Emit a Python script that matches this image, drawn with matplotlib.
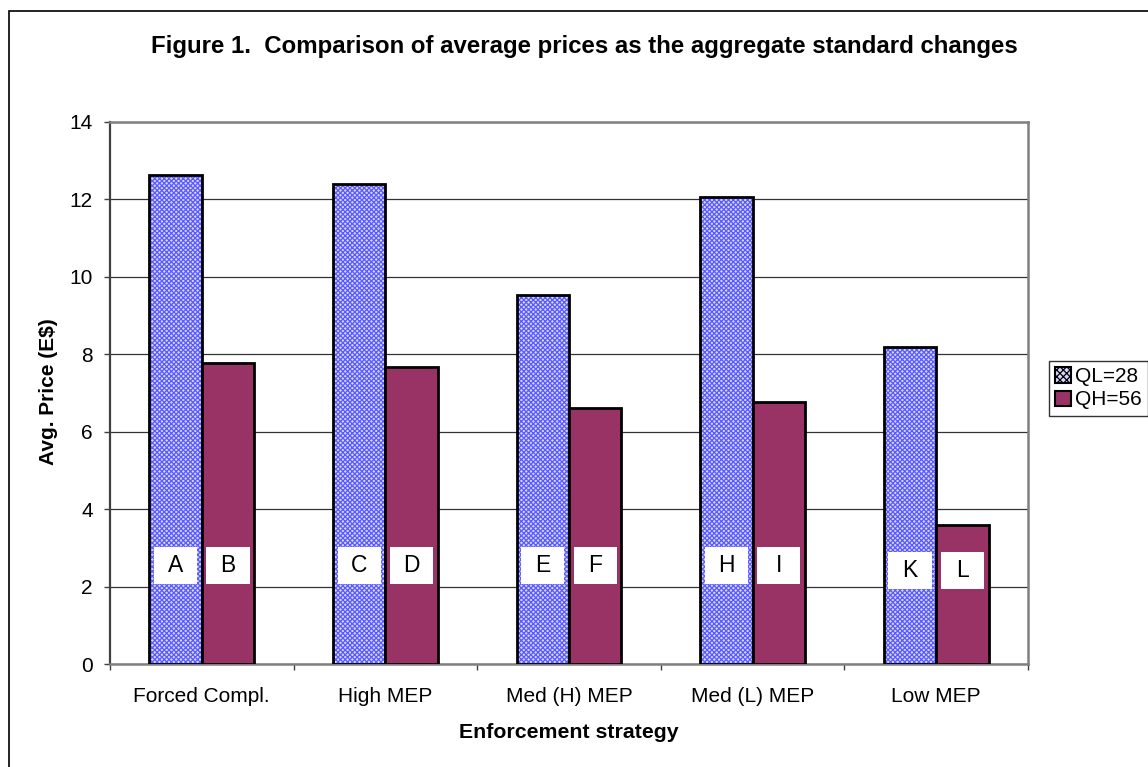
import numpy as np
import matplotlib
matplotlib.use("Agg")
import matplotlib.pyplot as plt
from matplotlib.patches import Rectangle, Patch

plt.rcParams["font.family"] = ["Liberation Sans", "DejaVu Sans"]
plt.rcParams["hatch.linewidth"] = 0.9

# data
categories = ["Forced Compl.", "High MEP", "Med (H) MEP", "Med (L) MEP", "Low MEP"]
ql28 = [12.63, 12.40, 9.53, 12.07, 8.18]
qh56 = [7.78, 7.66, 6.61, 6.78, 3.59]
letters_ql = ["A", "C", "E", "H", "K"]
letters_qh = ["B", "D", "F", "I", "L"]
letter_y = [2.55, 2.55, 2.55, 2.55, 2.41]
series_names = ["QL=28", "QH=56"]

BLUE_FG = "#5a5aff"
BLUE_BG = "#d6d6ff"
MAROON = "#993366"

W, H, DPI = 1148, 767, 100
fig = plt.figure(figsize=(W / DPI, H / DPI), dpi=DPI)

# outer chart border (left/top visible, runs off to the right and bottom)
fig.patches.append(Rectangle((8.5 / W, -0.05), 1.2, 1 - 10.5 / H + 0.05,
                             transform=fig.transFigure, fill=False,
                             ec="black", lw=1.2))

ax = fig.add_axes([110 / W, 102.7 / H, 918 / W, 542.5 / H])
x = np.arange(len(categories))
bw = 0.285

# pattern bars: hatch first, black outline on top
ax.bar(x - bw / 2, ql28, bw, color=BLUE_BG, edgecolor=BLUE_FG, lw=0,
       hatch="xxxxxxx", zorder=3)
ax.bar(x - bw / 2, ql28, bw, fill=False, edgecolor="black", lw=2, zorder=4)
ax.bar(x + bw / 2, qh56, bw, color=MAROON, edgecolor="black", lw=2, zorder=4)

# white letter boxes
box_w, box_h = 0.235, 0.955
for i in range(len(categories)):
    for xc, lab in [(x[i] - bw / 2, letters_ql[i]), (x[i] + bw / 2, letters_qh[i])]:
        ax.add_patch(Rectangle((xc - box_w / 2, letter_y[i] - box_h / 2),
                               box_w, box_h, fc="white", ec="none", zorder=5))
        ax.text(xc, letter_y[i], lab, ha="center", va="center",
                fontsize=16.5, zorder=6)

ax.set_xlim(-0.5, len(categories) - 0.5)
ax.set_ylim(0, 14)
ax.set_yticks(range(0, 15, 2))
ax.set_xticks(x)
ax.set_xticklabels(categories, fontsize=15)
ax.set_xticks(np.arange(-0.5, len(categories), 1), minor=True)
ax.tick_params(axis="x", which="major", length=0, pad=16)
ax.tick_params(axis="x", which="minor", length=4.5, width=1, direction="out",
               color="#404040")
ax.tick_params(axis="y", labelsize=15, length=4.5, width=1, pad=8,
               color="#404040")
ax.yaxis.grid(True, color="#333333", lw=0.9, zorder=0)
ax.set_axisbelow(True)
for side in ["top", "right", "bottom"]:
    ax.spines[side].set_color("#808080")
    ax.spines[side].set_linewidth(1.8)
ax.spines["left"].set_color("#404040")
ax.spines["left"].set_linewidth(1.6)

fig.text(584.5 / W, 1 - 47 / H,
         "Figure 1.  Comparison of average prices as the aggregate standard changes",
         ha="center", va="center", fontsize=17.3, fontweight="bold")
fig.text(569 / W, 1 - 733 / H, "Enforcement strategy", ha="center",
         va="center", fontsize=15.3, fontweight="bold")
fig.text(48 / W, 1 - 392 / H, "Avg. Price (E$)", ha="center", va="center",
         rotation=90, fontsize=15, fontweight="bold")

handles = [Patch(fc=BLUE_BG, ec="black", hatch="xxxxx", lw=1.5),
           Patch(fc=MAROON, ec="black", lw=1.5)]
leg = fig.legend(handles, series_names, loc="upper left",
                 bbox_to_anchor=(1049 / W, 1 - 361 / H), fontsize=15,
                 frameon=True, fancybox=False, handlelength=0.75,
                 handleheight=0.75, handletextpad=0.2, borderpad=0.3,
                 labelspacing=0.2, borderaxespad=0)
leg.get_frame().set_edgecolor("black")
leg.get_frame().set_linewidth(1)

fig.savefig("out.png", dpi=DPI)
